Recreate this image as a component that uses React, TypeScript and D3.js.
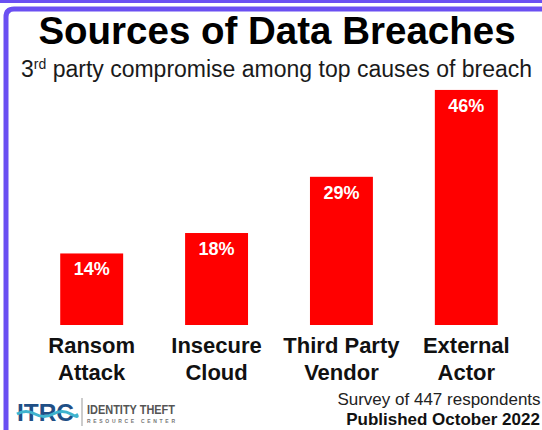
// @ts-nocheck
import { FC, useEffect, useRef } from "react";
import * as d3 from "d3";

const categories = ["Ransom|Attack", "Insecure|Cloud", "Third Party|Vendor", "External|Actor"];
const values = [14, 18, 29, 46];
const valueLabels = ["14%", "18%", "29%", "46%"];

const title = "Sources of Data Breaches";
const footerLines = ["Survey of 447 respondents", "Published October 2022"];

const W = 542;
const H = 430;
const FONT = "'Liberation Sans', Arial, Helvetica, sans-serif";
const PURPLE = "#6a4ff2";

const App: FC = () => {
  const ref = useRef();

  useEffect(() => {
    const svg = d3.select(ref.current);
    svg.selectAll("*").remove();

    // frame
    svg.append("rect").attr("width", W).attr("height", H).attr("fill", "#fff");
    svg.append("rect").attr("x", 0).attr("y", 0).attr("width", W).attr("height", 3).attr("fill", PURPLE);
    svg
      .append("path")
      .attr("d", `M${W + 10},9 L14,9 Q6,9 6,17 L6,${H + 10}`)
      .attr("fill", "none")
      .attr("stroke", PURPLE)
      .attr("stroke-width", 5);

    // titles
    svg
      .append("text")
      .attr("x", 277)
      .attr("y", 44)
      .attr("text-anchor", "middle")
      .style("font-family", FONT)
      .style("font-weight", "bold")
      .style("font-size", "38.5px")
      .style("fill", "#000")
      .text(title);

    const sub = svg
      .append("text")
      .attr("x", 21)
      .attr("y", 77)
      .style("font-family", FONT)
      .style("font-size", "23px")
      .style("fill", "#1a1a1a");
    sub.append("tspan").text("3");
    sub.append("tspan").attr("dy", -8).style("font-size", "14px").text("rd");
    sub.append("tspan").attr("dy", 8).text(" party compromise among top causes of breach");

    // scales
    const x = d3
      .scaleBand()
      .domain(categories)
      .range([29, 529])
      .paddingInner(0.496)
      .paddingOuter(0.25);
    const y = d3.scaleLinear().domain([0, 50]).range([325, 69.5]);

    const g = svg.append("g");
    g.selectAll("rect.bar")
      .data(values)
      .join("rect")
      .attr("class", "bar")
      .attr("x", (d, i) => x(categories[i]))
      .attr("y", (d) => y(d))
      .attr("width", x.bandwidth())
      .attr("height", (d) => y(0) - y(d))
      .attr("fill", "#ff0000");

    g.selectAll("text.val")
      .data(values)
      .join("text")
      .attr("class", "val")
      .attr("x", (d, i) => x(categories[i]) + x.bandwidth() / 2)
      .attr("y", (d) => y(d) + 22)
      .attr("text-anchor", "middle")
      .style("font-family", FONT)
      .style("font-weight", "bold")
      .style("font-size", "18px")
      .style("fill", "#fff")
      .text((d, i) => valueLabels[i]);

    // category labels (two lines)
    const cat = g
      .selectAll("text.cat")
      .data(categories)
      .join("text")
      .attr("class", "cat")
      .attr("text-anchor", "middle")
      .style("font-family", FONT)
      .style("font-weight", "bold")
      .style("font-size", "22px")
      .style("fill", "#111");
    cat
      .selectAll("tspan")
      .data((d) => d.split("|").map((t) => ({ t, c: d })))
      .join("tspan")
      .attr("x", (d) => x(d.c) + x.bandwidth() / 2)
      .attr("y", (d, i) => 353 + i * 27)
      .text((d) => d.t);

    // footer
    svg
      .append("text")
      .attr("x", 439)
      .attr("y", 405)
      .attr("text-anchor", "middle")
      .style("font-family", FONT)
      .style("font-size", "17px")
      .style("fill", "#222")
      .text(footerLines[0]);
    svg
      .append("text")
      .attr("x", 443)
      .attr("y", 425)
      .attr("text-anchor", "middle")
      .style("font-family", FONT)
      .style("font-weight", "bold")
      .style("font-size", "17px")
      .style("fill", "#111")
      .text(footerLines[1]);

    // ITRC logo
    const logo = svg.append("g");
    logo
      .append("text")
      .attr("x", 17)
      .attr("y", 421)
      .attr("textLength", 57)
      .attr("lengthAdjust", "spacingAndGlyphs")
      .style("font-family", FONT)
      .style("font-size", "23px")
      .style("font-weight", "bold")
      .style("fill", "#1f4f86")
      .text("ITRC");
    logo
      .append("path")
      .attr("d", "M17,414 Q26,409 35,414 T53,414 T71,414 T76,414")
      .attr("fill", "none")
      .attr("stroke", "#3fb4cf")
      .attr("stroke-width", 3);
    logo
      .append("line")
      .attr("x1", 82)
      .attr("x2", 82)
      .attr("y1", 398)
      .attr("y2", 426)
      .attr("stroke", "#999")
      .attr("stroke-width", 1);
    logo
      .append("text")
      .attr("x", 87)
      .attr("y", 414)
      .attr("textLength", 88)
      .attr("lengthAdjust", "spacingAndGlyphs")
      .style("font-family", FONT)
      .style("font-size", "12px")
      .style("font-weight", "bold")
      .style("fill", "#555")
      .text("IDENTITY THEFT");
    logo
      .append("text")
      .attr("x", 87)
      .attr("y", 423)
      .attr("textLength", 88)
      .attr("lengthAdjust", "spacing")
      .style("font-family", FONT)
      .style("font-size", "5px")
      .style("font-weight", "bold")
      .style("fill", "#777")
      .text("RESOURCE CENTER");
  }, []);

  return (
    <svg
      ref={ref}
      width={W}
      height={H}
      style={{ position: "absolute", left: 0, top: 0, display: "block" }}
    />
  );
};

export default App;
